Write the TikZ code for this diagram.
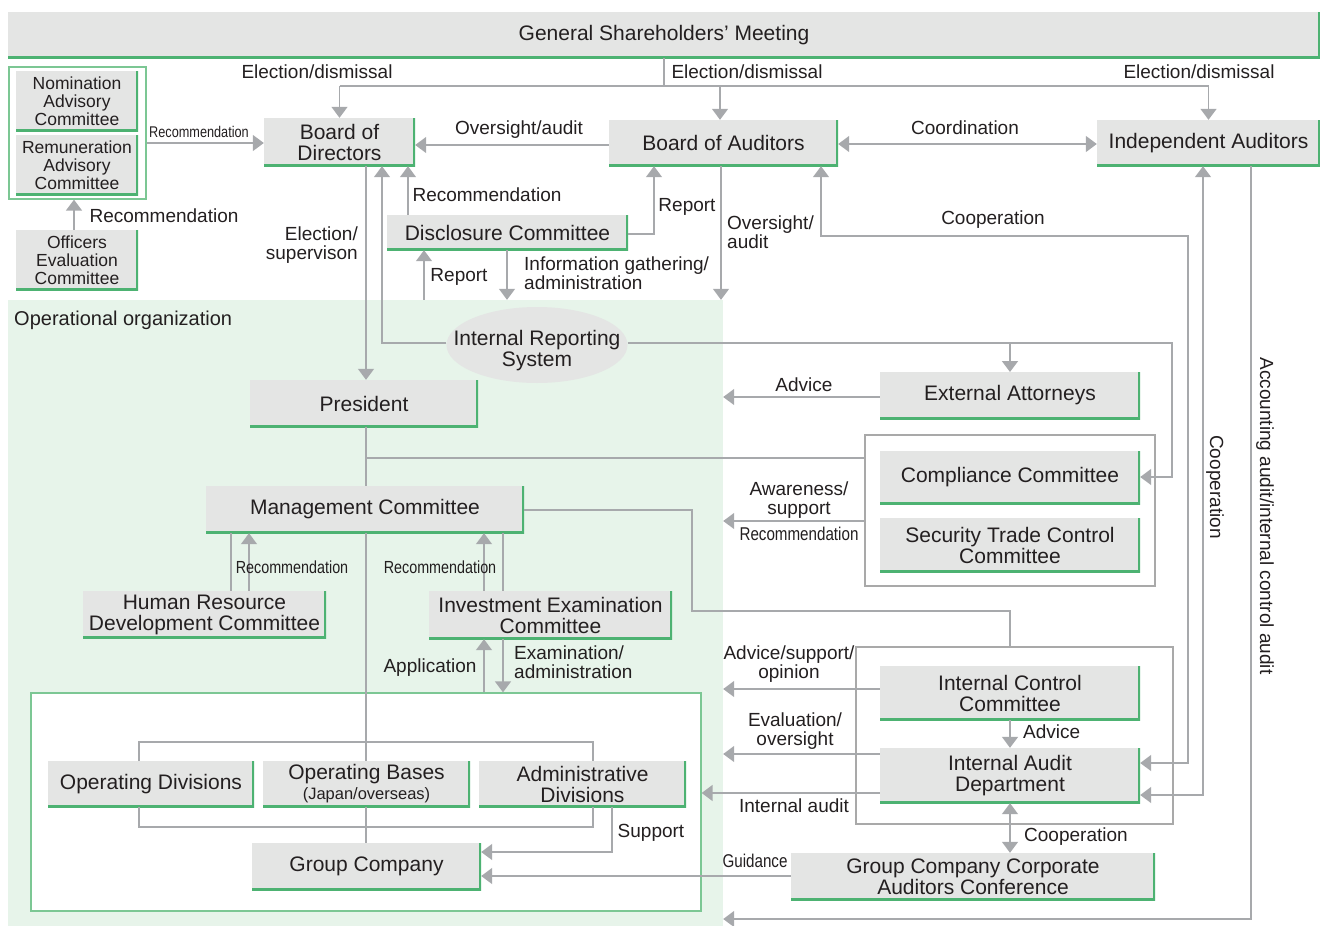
\documentclass[tikz,border=0pt]{standalone}
\usepackage{fontspec}
\setmainfont{Liberation Sans}
\newfontfamily\condf[FakeStretch=0.82]{Liberation Sans}
\usetikzlibrary{arrows.meta,calc,shapes.geometric}
\definecolor{boxg}{HTML}{E4E5E4}
\definecolor{grn}{HTML}{4DB272}
\definecolor{lgrn}{HTML}{7CC794}
\definecolor{opbg}{HTML}{E7F4EA}
\definecolor{lng}{HTML}{A7A9AC}
\definecolor{grp}{HTML}{A9A9A9}
\definecolor{txt}{HTML}{231F20}
\tikzset{
  gbox/.style={fill=boxg, inner sep=0pt, align=center, text=txt,
    font=\fontsize{21}{21}\selectfont,
    path picture={\draw[grn, line width=4pt]
      (path picture bounding box.south west) -- (path picture bounding box.south east)
      -- (path picture bounding box.north east);}},
  sbox/.style={gbox, font=\fontsize{17.5}{18}\selectfont},
  plain/.style={inner sep=0pt},
  opstyle/.style={plain, fill=opbg},
  ngrp/.style={plain, draw=lgrn, line width=1.3pt},
  wgrp/.style={plain, fill=white, draw=lgrn, line width=1.3pt},
  ggrp/.style={plain, fill=white, draw=grp, line width=1.6pt},
  lbl/.style={text=txt, inner sep=0pt, align=center, font=\fontsize{19}{19.5}\selectfont},
  llbl/.style={lbl, align=left},
  clbl/.style={text=txt, inner sep=0pt, font=\condf\fontsize{17.5}{18}\selectfont},
  ln/.style={draw=lng, line width=1.6pt},
  arr/.style={ln, -{Triangle[width=16pt,length=11pt]}},
  arrb/.style={ln, {Triangle[width=16pt,length=11pt]}-{Triangle[width=16pt,length=11pt]}},
}
\newcommand\gb[7][gbox]{\node[#1, minimum width={(#5-#3)*1pt}, minimum height={(#6-#4)*1pt}] (#2) at ({(#3+#5)/2},{(#4+#6)/2}) {#7};}
\begin{document}
\begin{tikzpicture}[x=1pt,y=-1pt]
\useasboundingbox (0,0) rectangle (1320,926);
% regions
\gb[opstyle]{opreg}{8}{300}{723}{926}{}
\gb[wgrp]{wbox}{31}{693}{701}{911}{}
\gb[ggrp]{cgrp}{865}{435}{1155}{586}{}
\gb[ggrp]{icgrp}{856}{647}{1173}{824}{}
\gb[ngrp]{nomgrp}{9}{67}{146}{199}{}
% boxes
\gb{gsm}{8}{12}{1320}{58}{General Shareholders' Meeting}
\gb[sbox]{nom}{16}{71}{138}{131}{Nomination\\Advisory\\Committee}
\gb[sbox]{rem}{16}{135}{138}{195}{Remuneration\\Advisory\\Committee}
\gb[sbox]{oec}{16}{230}{138}{290}{Officers\\Evaluation\\Committee}
\gb{bod}{264}{118}{415}{166}{Board of\\Directors}
\gb{boa}{609}{120}{838}{166}{Board of Auditors}
\gb{ia}{1097}{120}{1320}{166}{Independent Auditors}
\gb{dc}{387}{215}{628}{250}{Disclosure Committee}
\node[ellipse, fill=boxg, minimum width=181pt, minimum height=76pt, inner sep=0pt,
  label={[text=txt, align=center, inner sep=0pt, font=\fontsize{21}{21}\selectfont, yshift=-6pt]center:Internal Reporting\\System}] (irs) at (537,345) {};
\gb{pres}{250}{380}{478}{427}{President}
\gb{ea}{880}{372}{1140}{419}{External Attorneys}
\gb{cc}{880}{451}{1140}{504}{Compliance Committee}
\gb{stc}{880}{518}{1140}{572}{Security Trade Control\\Committee}
\gb{mc}{206}{486}{524}{533}{Management Committee}
\gb{hr}{83}{591}{326}{638}{Human Resource\\Development Committee}
\gb{iec}{429}{591}{672}{639}{Investment Examination\\Committee}
\gb{od}{48}{761}{254}{807}{Operating Divisions}
\gb{ob}{263}{761}{470}{807}{Operating Bases\\[-1pt]{\fontsize{16.5}{17}\selectfont(Japan/overseas)}}
\gb{ad}{479}{761}{686}{807}{Administrative\\Divisions}
\gb{gc}{252}{843}{481}{890}{Group Company}
\gb{icc}{880}{666}{1140}{720}{Internal Control\\Committee}
\gb{iad}{880}{748}{1140}{803}{Internal Audit\\Department}
\gb{gcc}{791}{853}{1155}{900}{Group Company Corporate\\Auditors Conference}
% connectors
\draw[ln] (gsm.south) -- (664,86);
\draw[ln] (bod.north |- 0,86) -- (ia.north |- 0,86);
\draw[arr] (bod.north |- 0,86) -- (bod.north);
\draw[arr] (720,86) -- (boa.north -| 720,0);
\draw[arr] (ia.north |- 0,86) -- (ia.north);
\draw[arr] (nomgrp.east |- 0,143) -- (bod.west |- 0,143);
\draw[arr] (oec.north -| 74,0) -- (nomgrp.south -| 74,0);
\draw[arr] (boa.west |- 0,145) -- (bod.east |- 0,145);
\draw[arrb] (boa.east |- 0,144) -- (ia.west |- 0,144);
\draw[arr] (dc.north -| 408,0) -- (bod.south -| 408,0);
\draw[arr] (dc.east |- 0,234) -| (boa.south -| 654,0);
\draw[arr] (opreg.north -| 424,0) -- (dc.south -| 424,0);
\draw[arr] (dc.south -| 507,0) -- (opreg.north -| 507,0);
\draw[arr] (boa.south -| 721,0) -- (opreg.north -| 721,0);
\draw[arr] (bod.south -| 366,0) -- (pres.north -| 366,0);
\draw[arr] (irs.west |- 0,343) -| (bod.south -| 382,0);
\draw[arr] (irs.east |- 0,343) -- (1172,343) |- (cc.east |- 0,477);
\draw[arr] (ea.north |- 0,343) -- (ea.north |- 0,372);
\draw[arr] (ea.west |- 0,397) -- (opreg.east |- 0,397);
\draw[ln] (pres.south -| 366,0) -- (mc.north -| 366,0);
\draw[ln] (366,458) -- (cgrp.west |- 0,458);
\draw[arr] (cgrp.west |- 0,521) -- (opreg.east |- 0,521);
\draw[ln] (mc.east |- 0,510) -| (692,611) -| (icgrp.north -| icc.north);
\draw[ln] (hr.north -| 231,0) -- (mc.south -| 231,0);
\draw[arr] (hr.north -| 249,0) -- (mc.south -| 249,0);
\draw[arr] (iec.north -| 484,0) -- (mc.south -| 484,0);
\draw[ln] (iec.north -| 503,0) -- (mc.south -| 503,0);
\draw[arr] (wbox.north -| 484,0) -- (iec.south -| 484,0);
\draw[arr] (iec.south -| 503,0) -- (wbox.north -| 503,0);
\draw[ln] (mc.south -| 366,0) -- (ob.north -| 366,0);
\draw[ln] (ob.south -| 366,0) -- (gc.north -| 366,0);
\draw[ln] (od.north -| 139,0) -- (139,742) -- (593,742) -- (ad.north -| 593,0);
\draw[ln] (od.south -| 139,0) -- (139,827) -- (593,827) -- (ad.south -| 593,0);
\draw[arr] (ad.south -| 612,0) |- (gc.east |- 0,852);
\draw[arr] (gcc.west |- 0,876) -- (gc.east |- 0,876);
\draw[arr] (icc.south) -- (iad.north);
\draw[arr] (icc.west |- 0,689) -- (opreg.east |- 0,689);
\draw[arr] (iad.west |- 0,754) -- (opreg.east |- 0,754);
\draw[arr] (iad.west |- 0,793) -- (wbox.east |- 0,793);
\draw[arrb] (iad.south) -- (gcc.north -| iad.south);
\draw[arrb] (boa.south -| 821,0) |- (1188,236) |- (iad.east |- 0,763);
\draw[arrb] (ia.south -| 1203,0) |- (iad.east |- 0,795);
\draw[arr] (ia.south -| 1251,0) |- (opreg.east |- 0,919);
% labels
\node[lbl] (l1) at (317,72) {Election/dismissal};
\node[lbl] (l2) at (747,72) {Election/dismissal};
\node[lbl] (l3) at (1199,72) {Election/dismissal};
\node[clbl, font=\condf\fontsize{15.5}{16}\selectfont] (l4) at (199,132) {Recommendation};
\node[lbl] (l5) at (164,216) {Recommendation};
\node[lbl] (l6) at (519,130) {Oversight/audit};
\node[lbl] (l7) at (965,128) {Coordination};
\node[lbl] (l8) at (487,195) {Recommendation};
\node[lbl] (l9) at (687,207) {Report};
\node[lbl, align=right, anchor=east] (l10) at (358,245) {Election/\\supervison};
\node[lbl] (l11) at (459,277) {Report};
\node[llbl, anchor=west] (l12) at (524,273) {Information gathering/\\administration};
\node[llbl, anchor=west] (l13) at (727,232) {Oversight/\\audit};
\node[lbl] (l14) at (993,220) {Cooperation};
\node[lbl, anchor=west, font=\fontsize{20}{20}\selectfont] (l15) at (14,320) {Operational organization};
\node[lbl] (l16) at (804,385) {Advice};
\node[lbl] (l17) at (799,500) {Awareness/\\support};
\node[clbl, font=\condf\fontsize{18.5}{19}\selectfont] (l18) at (799,534) {Recommendation};
\node[clbl] (l19) at (292,567) {Recommendation};
\node[clbl] (l20) at (440,567) {Recommendation};
\node[lbl] (l21) at (430,668) {Application};
\node[llbl, anchor=west] (l22) at (514,662) {Examination/\\administration};
\node[lbl] (l23) at (789,664) {Advice/support/\\opinion};
\node[lbl] (l24) at (795,731) {Evaluation/\\oversight};
\node[lbl, anchor=west] (l25) at (1023,732) {Advice};
\node[lbl] (l26) at (794,806) {Internal audit};
\node[lbl] (l27) at (651,833) {Support};
\node[lbl, anchor=west] (l28) at (1024,837) {Cooperation};
\node[clbl, font=\condf\fontsize{18.5}{19}\selectfont] (l29) at (755,861) {Guidance};
\node[lbl, rotate=-90] (l30) at (1215,487) {Cooperation};
\node[lbl, rotate=-90] (l31) at (1265,516) {Accounting audit/internal control audit};
\end{tikzpicture}
\end{document}
